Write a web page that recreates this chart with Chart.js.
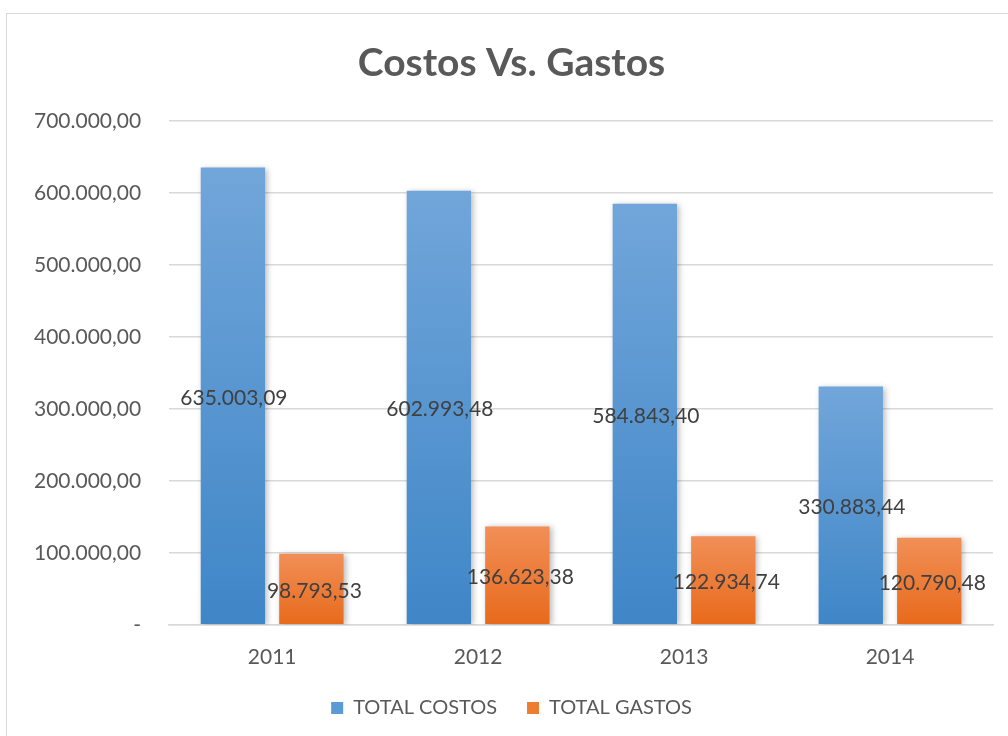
<!DOCTYPE html>
<html>
<head>
<meta charset="utf-8">
<script src="https://cdn.jsdelivr.net/npm/chart.js@4.4.0/dist/chart.umd.min.js"></script>
<style>
  body { margin: 0; background: #fff; }
  #frame { position: absolute; left: 6px; top: 13px; width: 1040px; height: 800px; border: 1px solid #d9d9d9; }
  #wrap { position: absolute; left: 0; top: 0; width: 1008px; height: 736px; }
</style>
</head>
<body>
<div id="frame"></div>
<div id="wrap"><canvas id="chart" width="1008" height="736"></canvas></div>
<script>
const years = ["2011", "2012", "2013", "2014"];
const totalCostos = [635003.09, 602993.48, 584843.40, 330883.44];
const totalGastos = [98793.53, 136623.38, 122934.74, 120790.48];
const yTicks = [0, 100000, 200000, 300000, 400000, 500000, 600000, 700000];

// 635003.09 -> "635.003,09"
function formatEs(value) {
  const parts = value.toFixed(2).split(".");
  const intPart = parts[0].replace(/\B(?=(\d{3})+(?!\d))/g, ".");
  return intPart + "," + parts[1];
}

function barGradient(context, topColor, bottomColor, flatColor) {
  const chart = context.chart;
  const yScale = chart.scales.y;
  if (!yScale || !context.parsed) return flatColor;
  const yTop = yScale.getPixelForValue(context.parsed.y);
  const yBot = yScale.getPixelForValue(0);
  if (!isFinite(yTop) || !isFinite(yBot)) return flatColor;
  const g = chart.ctx.createLinearGradient(0, yTop, 0, yBot);
  g.addColorStop(0, topColor);
  g.addColorStop(1, bottomColor);
  return g;
}

// soft shadow behind the bars
const barShadow = {
  id: "barShadow",
  beforeDatasetsDraw(chart) {
    const c = chart.ctx;
    c.save();
    c.shadowColor = "rgba(0, 0, 0, 0.28)";
    c.shadowBlur = 6;
    c.shadowOffsetX = 2;
    c.shadowOffsetY = 1;
  },
  afterDatasetsDraw(chart) {
    chart.ctx.restore();
  },
};

// value labels in the middle of each bar
const centerLabels = {
  id: "centerLabels",
  afterDatasetsDraw(chart) {
    const c = chart.ctx;
    c.save();
    c.font = "21px Lato";
    c.fillStyle = "#404040";
    c.textAlign = "center";
    c.textBaseline = "middle";
    chart.data.datasets.forEach((ds, i) => {
      const meta = chart.getDatasetMeta(i);
      meta.data.forEach((bar, j) => {
        const y = (bar.y + bar.base) / 2;
        c.fillText(formatEs(ds.data[j]), bar.x + (i === 1 ? 3 : 1), y + 2);
      });
    });
    c.restore();
  },
};

const ctx = document.getElementById("chart").getContext("2d");
new Chart(ctx, {
  type: "bar",
  data: {
    labels: years,
    datasets: [
      {
        label: "TOTAL COSTOS",
        data: totalCostos,
        backgroundColor: (context) =>
          barGradient(context, "#71a6da", "#3f86c7", "#5b9bd5"),
        categoryPercentage: 0.762,
        barPercentage: 0.82,
      },
      {
        label: "TOTAL GASTOS",
        data: totalGastos,
        backgroundColor: (context) =>
          barGradient(context, "#f18f57", "#e86a1b", "#ed7d31"),
        categoryPercentage: 0.762,
        barPercentage: 0.82,
      },
    ],
  },
  options: {
    responsive: false,
    animation: false,
    layout: {
      padding: { left: 30, right: 15, top: 30, bottom: 8 },
    },
    plugins: {
      title: {
        display: true,
        text: "Costos Vs. Gastos",
        color: "#595959",
        font: { family: "Lato", size: 39, weight: "bold" },
        padding: { top: 10, bottom: 34 },
      },
      legend: {
        position: "bottom",
        labels: {
          color: "#595959",
          font: { family: "Lato", size: 20 },
          boxWidth: 12,
          boxHeight: 12,
          padding: 30,
          generateLabels(chart) {
            const flat = ["#5b9bd5", "#ed7d31"];
            return chart.data.datasets.map((ds, i) => ({
              text: ds.label,
              fillStyle: flat[i],
              strokeStyle: flat[i],
              lineWidth: 0,
              fontColor: "#595959",
              datasetIndex: i,
              hidden: false,
            }));
          },
        },
      },
      tooltip: { enabled: false },
    },
    scales: {
      x: {
        grid: { display: false, drawTicks: false },
        border: { display: true, color: "#d9d9d9", width: 1.5 },
        ticks: {
          color: "#595959",
          font: { family: "Lato", size: 21 },
          padding: 20,
        },
        afterFit(axis) {
          axis.height -= 22;
        },
      },
      y: {
        min: 0,
        max: 700000,
        afterBuildTicks(axis) {
          axis.ticks = yTicks.map((v) => ({ value: v }));
        },
        afterFit(axis) {
          axis.width -= 24;
        },
        grid: { color: "#d9d9d9", lineWidth: 1.5, drawTicks: false },
        border: { display: false },
        ticks: {
          color: "#595959",
          font: { family: "Lato", size: 21 },
          padding: 28,
          callback: (value) => (value === 0 ? "-" : formatEs(value)),
        },
      },
    },
  },
  plugins: [barShadow, centerLabels],
});
</script>
</body>
</html>
